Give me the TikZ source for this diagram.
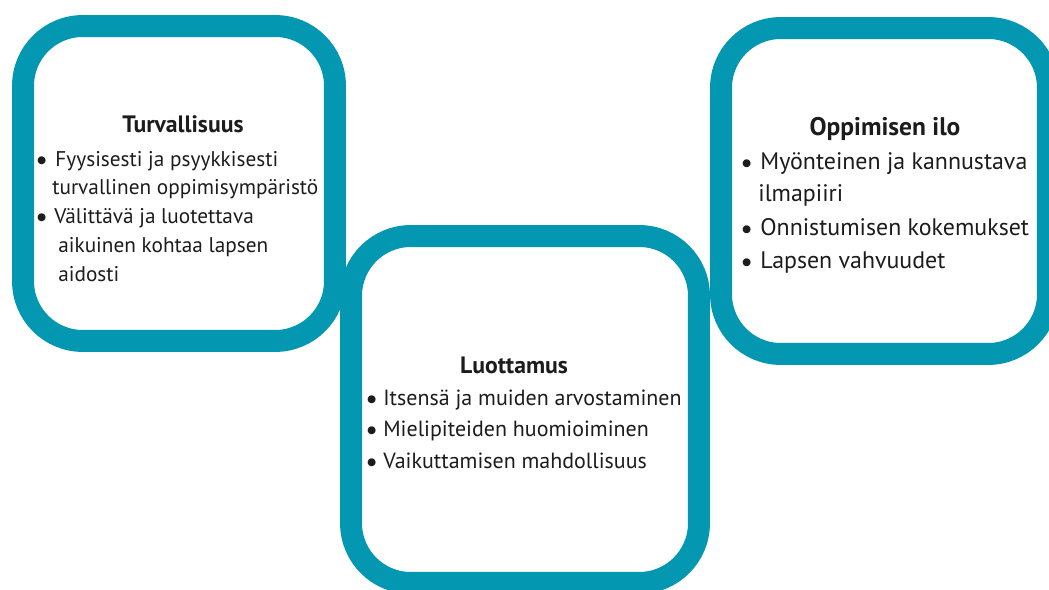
\documentclass[tikz,border=0pt]{standalone}
\usepackage{fontspec}
\setmainfont{PT Sans}
\definecolor{boxteal}{HTML}{0397B1}
\definecolor{inkgray}{HTML}{1C1C1C}
\tikzset{
  frame/.style={draw=boxteal, line width=12.5pt, rounded corners=34pt, fill=white,
    inner sep=0pt, outer sep=0pt},
  heading/.style={font=\bfseries\fontsize{#1}{16}\selectfont, text=inkgray,
    inner sep=0pt, anchor=base},
  heading/.default=13.5,
  dot/.style={font=\fontsize{16}{16}\selectfont, text=inkgray, inner sep=0pt,
    anchor=base west, yshift=-1.3pt},
  item/.style={font=\fontsize{#1}{15}\selectfont, text=inkgray, inner sep=0pt, anchor=base west},
  item/.default=12.5
}
\begin{document}
\begin{tikzpicture}[x=0.02cm, y=-0.02cm]
\useasboundingbox (0,0) rectangle (1049,590);
\clip (0,0) rectangle (1049,590);

% the three frames
\node[frame, minimum width=6.24cm, minimum height=6.30cm] (safety) at (179,183.5) {};
\node[frame, minimum width=6.54cm, minimum height=6.52cm] (joy) at (884.5,191) {};
\node[frame, minimum width=6.96cm, minimum height=6.94cm] (trust) at (525,409.5) {};

% Turvallisuus
\node[heading] (safetyhead) at (183,133) {Turvallisuus};
\node[dot] (s1d) at (35,167) {•};
\node[item=12.1] (s1a) at (55,167) {Fyysisesti ja psyykkisesti};
\node[item=12.1] (s1b) at (52,195) {turvallinen oppimisympäristö};
\node[dot] (s2d) at (35,224) {•};
\node[item=12.1] (s2a) at (54,224) {Välittävä ja luotettava};
\node[item=12.1] (s2b) at (58,253) {aikuinen kohtaa lapsen};
\node[item=12.1] (s2c) at (58,282) {aidosti};

% Luottamus
\node[heading] (trusthead) at (514,374) {Luottamus};
\node[dot] (t1d) at (365,406) {•};
\node[item] (t1a) at (383,406) {Itsensä ja muiden arvostaminen};
\node[dot] (t2d) at (365,437) {•};
\node[item] (t2a) at (383,437) {Mielipiteiden huomioiminen};
\node[dot] (t3d) at (365,469) {•};
\node[item] (t3a) at (383,469) {Vaikuttamisen mahdollisuus};

% Oppimisen ilo
\node[heading=14.5] (joyhead) at (885,136) {Oppimisen ilo};
\node[dot] (j1d) at (740,170) {•};
\node[item=13.6] (j1a) at (760,170) {Myönteinen ja kannustava};
\node[item=13.6] (j1b) at (758,202) {ilmapiiri};
\node[dot] (j2d) at (740,236) {•};
\node[item=13.6] (j2a) at (760,236) {Onnistumisen kokemukset};
\node[dot] (j3d) at (740,269) {•};
\node[item=13.6] (j3a) at (760,269) {Lapsen vahvuudet};
\end{tikzpicture}
\end{document}
